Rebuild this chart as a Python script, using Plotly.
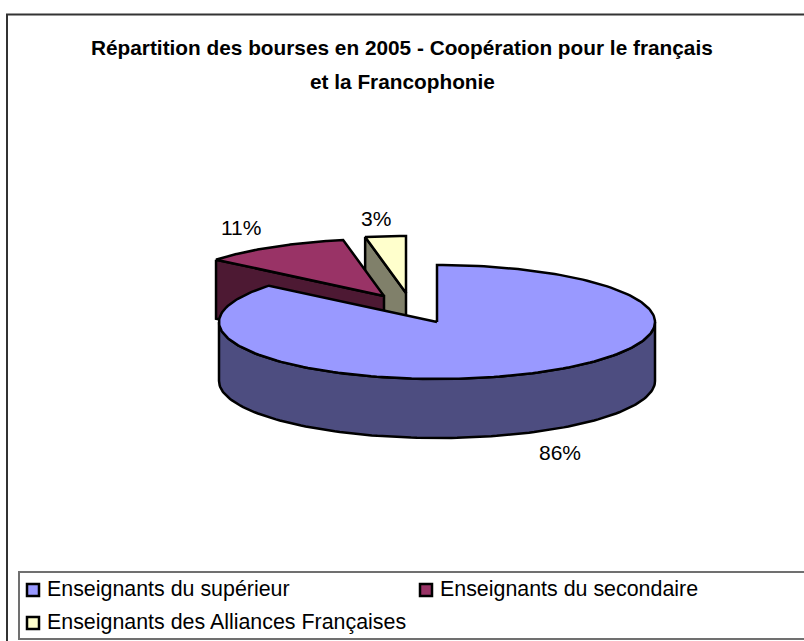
import numpy as np
import plotly.graph_objects as go

categories = ["Enseignants du supérieur", "Enseignants du secondaire", "Enseignants des Alliances Françaises"]
values = [86, 11, 3]
labels = ["86%", "11%", "3%"]
title_lines = ["Répartition des bourses en 2005 - Coopération pour le français", "et la Francophonie"]

top_colors = ["#9999FF", "#993366", "#FFFFCC"]
side_colors = ["#4D4D80", "#4D1933", "#80806A"]

CX, CY, RX, RY, DEPTH = 437, 322, 218, 57, 59
offsets = [(0, 0), (-53, -26), (-31, -29)]
label_pos = [(560, 452), (241, 227), (376, 218)]

cum = np.cumsum([0] + values) / sum(values) * 2 * np.pi


def rim(a, off=(0, 0), dy=0):
    return CX + off[0] + RX * np.sin(a), CY + off[1] - RY * np.cos(a) + dy


fig = go.Figure()


def poly(xs, ys, color):
    fig.add_trace(go.Scatter(x=list(xs), y=list(ys), mode="lines", fill="toself", fillcolor=color,
                             line=dict(color="black", width=2.5), hoverinfo="skip", showlegend=False))


for i in [2, 1, 0]:
    a0, a1 = cum[i], cum[i + 1]
    off = offsets[i]
    ax, ay = CX + off[0], CY + off[1]
    lo, hi = max(a0, np.pi / 2), min(a1, 3 * np.pi / 2)
    if lo < hi:
        t = np.linspace(lo, hi, 120)
        x, y = rim(t, off)
        xb, yb = rim(t[::-1], off, DEPTH)
        poly(np.r_[x, xb, x[0]], np.r_[y, yb, y[0]], side_colors[i])
    if i > 0:
        rx, ry = rim(a0, off)
        poly([rx, ax, ax, rx, rx], [ry, ay, ay + DEPTH, ry + DEPTH, ry], side_colors[i])
    t = np.linspace(a0, a1, 200)
    x, y = rim(t, off)
    poly(np.r_[ax, x, ax], np.r_[ay, y, ay], top_colors[i])

for lab, (lx, ly) in zip(labels, label_pos):
    fig.add_annotation(x=lx, y=ly, text=lab, showarrow=False,
                       font=dict(family="Liberation Sans", size=21, color="black"))

frame = dict(type="rect", fillcolor="rgba(0,0,0,0)", layer="above")
fig.add_shape(x0=7, y0=14.5, x1=810, y1=670, line=dict(color="#333333", width=2), **frame)
fig.add_shape(x0=19, y0=572, x1=810, y1=639, line=dict(color="#707070", width=2), **frame)

legend_pos = [(33, 590), (426, 590), (33, 623)]
for cat, col, (lx, ly) in zip(categories, top_colors, legend_pos):
    fig.add_shape(type="rect", x0=lx - 6, x1=lx + 6, y0=ly - 6, y1=ly + 6, fillcolor=col,
                  line=dict(color="black", width=2.5))
    fig.add_annotation(x=lx + 12, y=ly - 1, text=cat, showarrow=False, xanchor="left",
                       font=dict(family="Liberation Sans", size=21.4, color="black"))

for line, ly in zip(title_lines, [47, 81]):
    fig.add_annotation(x=402, y=ly, text=line, showarrow=False,
                       font=dict(family="Liberation Sans", size=20.8, color="black", weight="bold"))

fig.update_layout(width=804, height=641, margin=dict(l=0, r=0, t=0, b=0),
                  paper_bgcolor="white", plot_bgcolor="white", showlegend=False,
                  xaxis=dict(range=[0, 804], visible=False, fixedrange=True),
                  yaxis=dict(range=[641, 0], visible=False, fixedrange=True))
fig.write_html("out.html", config={"displayModeBar": False},
               post_script="document.body.style.margin='0';document.body.style.overflow='hidden';")
